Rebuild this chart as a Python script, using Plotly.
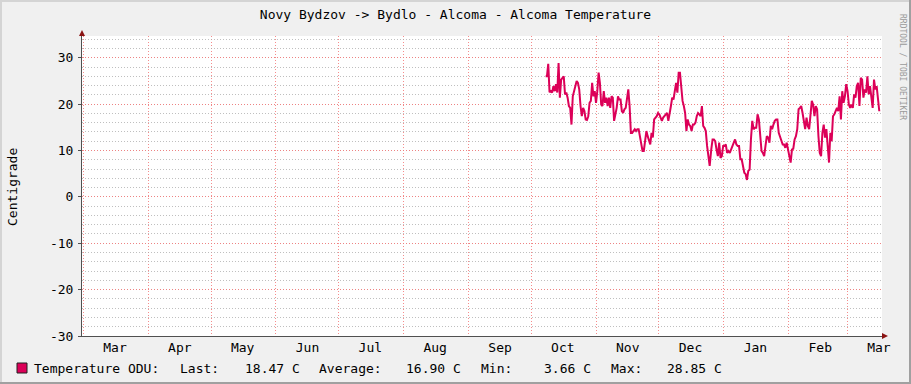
import pandas as pd
import plotly.graph_objects as go

# ---------------- data ----------------
title_text = "Novy Bydzov -> Bydlo - Alcoma - Alcoma Temperature"
y_title = "Centigrade"
series_label = "Temperature ODU:"
unit = "C"

# temperature samples, two consecutive stretches
temps_autumn = [
    26.0, 26.0, 28.7, 22.6, 22.8, 22.5, 23.9, 22.8, 24.3, 22.5,
    28.85, 21.4, 25.3, 25.7, 26.0, 22.1, 22.5, 21.4, 19.6, 19.2,
    15.6, 21.7, 22.8, 23.9, 25.0, 24.6, 23.2, 19.6, 17.4, 19.2,
    18.5, 16.7, 16.6, 17.4, 20.3, 20.7, 24.6, 21.7, 22.8, 20.3,
    22.8, 26.8, 24.6, 19.9, 19.6, 22.8, 20.3, 21.4, 19.6, 21.4,
    19.2, 21.7, 21.4, 16.4, 17.8, 19.2, 21.7, 21.0, 21.0, 18.5,
    18.1, 18.9, 19.2, 21.0, 23.2, 19.6, 13.8, 13.8, 14.2, 14.6,
    14.2, 14.6, 14.6, 13.1, 11.7, 9.9, 9.9, 12.0, 14.2, 13.1,
    12.4, 11.3, 13.8, 12.8, 16.7, 17.1, 17.4, 18.1, 17.8, 17.1,
    16.4, 17.1, 17.4, 17.8, 18.1, 16.4, 18.5, 19.6, 21.4, 21.0,
    22.8, 24.6, 22.5, 26.8, 26.8, 23.9, 20.7, 19.6, 18.1, 14.2,
    16.7, 15.6, 15.3, 14.2, 15.6, 15.6, 16.0, 17.4, 18.1, 17.8,
    17.4, 19.6, 15.3, 14.9, 14.2, 11.0, 9.2, 6.7,
]
temps_winter = [
    10.2, 12.4, 12.4, 12.0, 10.2, 8.8, 11.7, 8.4, 8.8, 11.0,
    11.0, 11.3, 9.5, 9.9, 9.5, 10.2, 11.0, 11.3, 12.4, 11.3,
    11.0, 11.0, 8.1, 8.1, 6.7, 5.2, 4.9, 3.66, 5.6, 5.9,
    12.4, 16.4, 14.6, 14.9, 14.9, 17.8, 16.7, 13.1, 9.9, 9.5,
    8.8, 11.0, 13.1, 12.8, 11.7, 15.3, 14.6, 15.6, 16.4, 16.7,
    16.7, 13.8, 13.1, 12.4, 11.3, 11.3, 10.6, 11.7, 10.2, 8.8,
    7.4, 10.2, 10.4, 12.4, 13.1, 14.6, 18.9, 19.2, 19.6, 18.1,
    16.0, 14.6, 17.1, 15.3, 14.6, 17.8, 20.7, 19.9, 17.4, 19.6,
    18.9, 13.1, 9.5, 8.8, 13.8, 15.6, 12.8, 14.6, 11.0, 7.4,
    13.8, 12.0, 17.4, 17.8, 18.5, 19.2, 18.5, 21.7, 16.7, 22.8,
    20.3, 21.7, 24.3, 22.8, 19.9, 19.2, 19.9, 19.2, 22.1, 21.4,
    23.9, 24.6, 19.6, 25.7, 25.3, 21.4, 23.2, 22.5, 26.0, 22.1,
    23.9, 21.4, 19.2, 25.3, 23.2, 23.9, 20.7, 18.47,
]
autumn_span = ("2013-10-07 21:00", "2013-12-25 05:45")
winter_span = ("2013-12-25 23:50", "2014-03-16 07:00")

x_range = ("2013-02-28 08:00", "2014-03-17 14:00")
month_starts = pd.date_range("2013-03-01", "2014-03-01", freq="MS")
month_labels = [d.strftime("%b") for d in month_starts]
label_offset = pd.Timedelta(days=15, hours=2)

y_range = (-30, 34.7)
y_ticks = [-30, -20, -10, 0, 10, 20, 30]
y_tick_labels = ["-30", "-20", "-10", "0", "10", "20", "30"]

legend_items = ["Last:", "18.47 C", "Average:", "16.90 C", "Min:", "3.66 C", "Max:", "28.85 C"]
watermark = "RRDTOOL / TOBI OETIKER"

# ---------------- styling ----------------
W, H = 911, 384
L, R, T, B = 82, 29, 36, 48
PW, PH = W - L - R, H - T - B
FONT = "DejaVu Sans Mono"
LINE_C = "#DC0058"
ARROW_C = "#8B1414"
AXIS_C = "#505050"


def px(xp):
    return (xp - L) / PW


def py(yp):
    return (T + PH - yp) / PH


times_a = pd.date_range(autumn_span[0], autumn_span[1], periods=len(temps_autumn))
times_w = pd.date_range(winter_span[0], winter_span[1], periods=len(temps_winter))
times = list(times_a) + list(times_w)
temps = temps_autumn + temps_winter

fig = go.Figure()
fig.add_trace(go.Scatter(
    x=times, y=temps, mode="lines",
    line=dict(color=LINE_C, width=2),
    showlegend=False, hoverinfo="skip",
))

fig.update_layout(
    width=W, height=H,
    margin=dict(l=L, r=R, t=T, b=B, pad=0),
    paper_bgcolor="#F0F0F0",
    plot_bgcolor="#FFFFFF",
    font=dict(family=FONT, size=13, color="#000000"),
    showlegend=False,
    title=dict(text=title_text, x=0.5, xref="container", xanchor="center",
               y=1 - 14 / H, yref="container", yanchor="middle",
               font=dict(family=FONT, size=13, color="#000000")),
)

fig.update_xaxes(
    type="date", range=list(x_range),
    tickmode="array",
    tickvals=[d + label_offset for d in month_starts],
    ticktext=month_labels,
    showgrid=False, zeroline=False,
    ticks="", ticklabelstandoff=-1,
    showline=True, linecolor=AXIS_C, linewidth=1,
    tickfont=dict(family=FONT, size=13, color="#000000"),
    minor=dict(tickmode="array", tickvals=list(month_starts), showgrid=True,
               gridcolor="rgba(245,120,120,0.85)", griddash="1px,2px", gridwidth=1,
               ticks=""),
)

fig.update_yaxes(
    range=list(y_range),
    tickmode="array", tickvals=y_ticks, ticktext=y_tick_labels,
    showgrid=True, gridcolor="rgba(245,120,120,0.85)", griddash="1px,2px", gridwidth=1,
    zeroline=False,
    showline=True, linecolor=AXIS_C, linewidth=1,
    ticks="outside", ticklen=3, tickcolor=AXIS_C, ticklabelstandoff=2,
    tickfont=dict(family=FONT, size=13, color="#000000"),
    minor=dict(tickmode="linear", tick0=0, dtick=2, showgrid=True,
               gridcolor="rgba(170,170,170,0.75)", griddash="1px,2px", gridwidth=1),
)

shapes = []
# frame of the image
shapes.append(dict(type="rect", xref="paper", yref="paper", x0=px(0), x1=px(W), y0=py(0), y1=py(2),
                   fillcolor="#D4D4D4", line_width=0, layer="below"))
shapes.append(dict(type="rect", xref="paper", yref="paper", x0=px(0), x1=px(2), y0=py(0), y1=py(H),
                   fillcolor="#D4D4D4", line_width=0, layer="below"))
shapes.append(dict(type="rect", xref="paper", yref="paper", x0=px(W - 2), x1=px(W), y0=py(0), y1=py(H),
                   fillcolor="#A0A0A0", line_width=0))
shapes.append(dict(type="rect", xref="paper", yref="paper", x0=px(0), x1=px(W), y0=py(H - 2), y1=py(H),
                   fillcolor="#A0A0A0", line_width=0))
# arrows on the axes
shapes.append(dict(type="path", xref="paper", yref="paper", xsizemode="pixel", ysizemode="pixel",
                   xanchor=0, yanchor=1, path="M-3,0 L3,0 L0,6 Z",
                   fillcolor=ARROW_C, line=dict(width=0)))
shapes.append(dict(type="path", xref="paper", yref="paper", xsizemode="pixel", ysizemode="pixel",
                   xanchor=1, yanchor=0, path="M0,-3 L0,3 L6,0 Z",
                   fillcolor=ARROW_C, line=dict(width=0)))
# legend swatch
shapes.append(dict(type="rect", xref="paper", yref="paper", x0=px(17), x1=px(27), y0=py(373), y1=py(363),
                   fillcolor=LINE_C, line=dict(color="#202020", width=1)))
fig.update_layout(shapes=shapes)

ann = []
ann.append(dict(text=y_title, xref="paper", yref="paper", x=px(12), y=py(187),
                textangle=-90, showarrow=False, xanchor="center", yanchor="middle",
                font=dict(family=FONT, size=13, color="#000000")))
ann.append(dict(text=watermark, xref="paper", yref="paper", x=px(903), y=py(67),
                textangle=90, showarrow=False, xanchor="center", yanchor="middle",
                font=dict(family=FONT, size=8, color="#9A9A9A")))
legend_x = [178, 243, 317, 404, 479, 542, 609, 665]
ann.append(dict(text=series_label, xref="paper", yref="paper", x=px(32), y=py(368),
                showarrow=False, xanchor="left", yanchor="middle",
                font=dict(family=FONT, size=13, color="#000000")))
for txt, xp in zip(legend_items, legend_x):
    ann.append(dict(text=txt, xref="paper", yref="paper", x=px(xp), y=py(368),
                    showarrow=False, xanchor="left", yanchor="middle",
                    font=dict(family=FONT, size=13, color="#000000")))
fig.update_layout(annotations=ann)

fig.write_html("out.html")
